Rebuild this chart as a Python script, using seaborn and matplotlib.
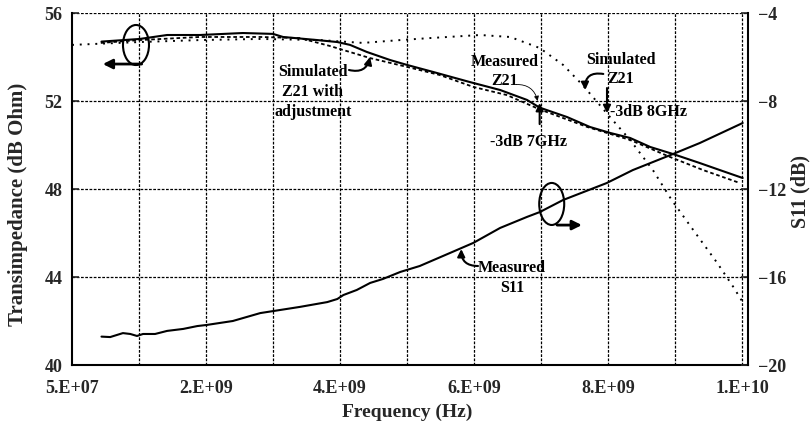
import matplotlib
matplotlib.use("Agg")
import matplotlib.pyplot as plt
import seaborn as sns
import pandas as pd
from matplotlib.patches import Ellipse

# ---------------- data ----------------
freq_meas_z21 = [0.49e9, 1.06e9, 1.47e9, 1.96e9, 2.60e9, 3.05e9, 3.20e9, 3.71e9, 4.01e9,
                 4.20e9, 4.45e9, 4.80e9, 5.05e9, 5.44e9, 5.99e9, 6.44e9, 6.84e9, 7.03e9,
                 7.44e9, 7.78e9, 8.08e9, 8.38e9, 8.68e9, 9.02e9, 9.42e9, 9.72e9, 10.06e9]
meas_z21 = [54.70, 54.82, 55.00, 55.00, 55.09, 55.05, 54.91, 54.77, 54.68,
            54.55, 54.23, 53.86, 53.64, 53.32, 52.86, 52.50, 52.05, 51.70,
            51.27, 50.82, 50.55, 50.32, 49.91, 49.59, 49.18, 48.86, 48.50]

freq_adj_z21 = [0.48e9, 1.06e9, 1.96e9, 2.86e9, 3.45e9, 3.90e9, 4.50e9, 5.05e9, 5.54e9,
                6.04e9, 6.54e9, 7.03e9, 7.74e9, 8.38e9, 8.98e9, 9.47e9, 10.02e9]
adj_z21 = [54.64, 54.77, 54.91, 54.91, 54.86, 54.50, 53.95, 53.55, 53.18,
           52.64, 52.27, 51.62, 50.82, 50.23, 49.45, 48.86, 48.27]

freq_sim_z21 = [0.05e9, 1.06e9, 1.96e9, 2.86e9, 3.75e9, 4.39e9, 4.95e9, 5.39e9, 6.14e9,
                6.59e9, 7.03e9, 7.38e9, 7.67e9, 8.08e9, 8.38e9, 8.72e9, 9.00e9, 9.30e9,
                9.68e9, 9.92e9, 10.06e9]
sim_z21 = [54.55, 54.68, 54.77, 54.82, 54.77, 54.64, 54.77, 54.86, 55.00,
           54.91, 54.41, 53.64, 52.73, 51.27, 50.23, 48.86, 47.50, 46.23,
           44.64, 43.55, 42.86]

freq_meas_s11 = [0.49e9, 0.62e9, 0.81e9, 0.92e9, 1.02e9, 1.11e9, 1.29e9, 1.47e9, 1.71e9,
                 1.92e9, 2.06e9, 2.45e9, 2.86e9, 3.05e9, 3.45e9, 3.86e9, 4.01e9, 4.10e9,
                 4.30e9, 4.50e9, 4.69e9, 4.95e9, 5.24e9, 5.69e9, 6.04e9, 6.44e9, 6.84e9,
                 7.03e9, 7.38e9, 8.03e9, 8.42e9, 9.02e9, 9.42e9, 10.06e9]
meas_s11 = [-18.71, -18.73, -18.55, -18.59, -18.68, -18.59, -18.59, -18.45, -18.36,
            -18.23, -18.18, -18.00, -17.64, -17.55, -17.36, -17.14, -17.00, -16.82,
            -16.59, -16.27, -16.09, -15.77, -15.50, -14.91, -14.45, -13.77, -13.27,
            -13.05, -12.50, -11.73, -11.14, -10.41, -9.91, -9.00]

x_tick_values = [0.05e9, 2.05e9, 4.05e9, 6.05e9, 8.05e9, 10.05e9]
x_tick_labels = ["5.E+07", "2.E+09", "4.E+09", "6.E+09", "8.E+09", "1.E+10"]
x_minor_values = [1.05e9, 3.05e9, 5.05e9, 7.05e9, 9.05e9]
y_left_ticks = [40, 44, 48, 52, 56]
y_right_ticks = [-20, -16, -12, -8, -4]

# ---------------- style ----------------
sns.set_style("white")
plt.rcParams['font.family'] = ['Liberation Serif', 'DejaVu Serif']
plt.rcParams['font.weight'] = 'bold'
plt.rcParams['axes.labelweight'] = 'bold'

fig = plt.figure(figsize=(8.11, 4.28), dpi=100)
ax = fig.add_axes([72 / 811, 1 - 365 / 428, 676 / 811, 352 / 428])
ax2 = ax.twinx()

grid_ls = (0, (2.2, 1.2))
LW = 1.5

df_meas = pd.DataFrame({"f": freq_meas_z21, "z": meas_z21})
df_adj = pd.DataFrame({"f": freq_adj_z21, "z": adj_z21})
df_sim = pd.DataFrame({"f": freq_sim_z21, "z": sim_z21})
df_s11 = pd.DataFrame({"f": freq_meas_s11, "s": meas_s11})

sns.lineplot(data=df_sim, x="f", y="z", ax=ax, color="black", lw=1.4,
             linestyle=(0, (1, 3)), estimator=None, sort=False)
sns.lineplot(data=df_adj, x="f", y="z", ax=ax, color="black", lw=1.3,
             linestyle=(0, (2, 1.5)), estimator=None, sort=False)
sns.lineplot(data=df_meas, x="f", y="z", ax=ax, color="black", lw=LW,
             estimator=None, sort=False)
sns.lineplot(data=df_s11, x="f", y="s", ax=ax2, color="black", lw=LW,
             estimator=None, sort=False)

xmax = 0.05e9 + (748 - 72) / 67 * 1e9
ax.set_xlim(0.05e9, xmax)
ax.set_ylim(40, 56)
ax2.set_ylim(-20, -4)

ax.set_xticks(x_tick_values)
ax.set_xticklabels(x_tick_labels)
ax.set_xticks(x_minor_values, minor=True)
ax.set_yticks(y_left_ticks)
ax2.set_yticks(y_right_ticks)

ax.grid(True, which="both", axis="x", color="black", linestyle=grid_ls, lw=0.9)
ax.grid(True, which="major", axis="y", color="black", linestyle=grid_ls, lw=0.9)
for gl in ax.yaxis.get_gridlines():
    y = gl.get_ydata()[0]
    if y in (40, 56):
        gl.set_visible(False)
for gl in ax.xaxis.get_gridlines():
    if gl.get_xdata()[0] < 0.1e9:
        gl.set_visible(False)
ax.set_axisbelow(True)

for a in (ax, ax2):
    for s in a.spines.values():
        s.set_color("black")
        s.set_linewidth(1.5)
    a.spines["top"].set_visible(False)
ax.spines["right"].set_visible(False)
ax2.spines["left"].set_visible(False)
ax2.spines["bottom"].set_visible(False)

ax.tick_params(axis="x", which="both", length=0, pad=10.5, labelsize=13)
ax.tick_params(axis="y", direction="in", length=5, width=1.2, pad=7, labelsize=13)
ax2.tick_params(axis="y", direction="in", length=5, width=1.2, pad=7, labelsize=13)
for lab in ax.get_xticklabels() + ax.get_yticklabels() + ax2.get_yticklabels():
    lab.set_fontweight("bold")

ax.set_xlabel("Frequency (Hz)", fontsize=14, fontweight="bold")
ax.set_ylabel("Transimpedance (dB Ohm)", fontsize=15, fontweight="bold")
ax2.set_ylabel("S11 (dB)", fontsize=14.5, fontweight="bold")
ax.xaxis.set_label_coords(0.4956, -0.111)
ax.yaxis.set_label_coords(-0.065, 0.457)
ax2.yaxis.set_label_coords(1.0635, 0.494)

# ---------------- annotations ----------------
TXT = dict(fontsize=11.5, fontweight="bold", ha="center", va="center",
           linespacing=1.3, color="black")
head = dict(arrowstyle="-|>", color="black", lw=1.5, mutation_scale=11,
            shrinkA=0, shrinkB=0)

# left group marker (ellipse + arrow to left axis)
ax.add_patch(Ellipse((1.005e9, 54.545), 0.388e9, 1.82, fill=False, lw=1.5, ec="black", zorder=5))
ax.annotate("", xy=(0.51e9, 53.68), xytext=(1.09e9, 53.68),
            arrowprops=dict(head, lw=2.0, mutation_scale=14))

# right group marker (ellipse + arrow to right axis)
ax.add_patch(Ellipse((7.21e9, 47.32), 0.373e9, 1.91, fill=False, lw=1.5, ec="black", zorder=5))
ax.annotate("", xy=(7.66e9, 46.36), xytext=(7.29e9, 46.36),
            arrowprops=dict(head, lw=2.0, mutation_scale=14))

# Simulated Z21 with adjustment
ax.text(3.647e9, 52.41, "Simulated\nZ21 with\nadjustment", **TXT)
ax.annotate("", xy=(4.498e9, 54.0), xytext=(4.184e9, 53.41),
            arrowprops=dict(head, connectionstyle="arc3,rad=0.5"))

# Measured Z21
ax.text(6.51e9, 53.34, "Measured\nZ21", **TXT)
ax.annotate("", xy=(7.0e9, 52.0), xytext=(6.68e9, 52.75),
            arrowprops=dict(arrowstyle="-|>", color="black", lw=0.6, mutation_scale=7,
                            shrinkA=0, shrinkB=0, connectionstyle="arc3,rad=-0.4"))
ax.annotate("", xy=(7.03e9, 51.91), xytext=(7.03e9, 50.95), arrowprops=head)
ax.text(6.87e9, 50.14, "-3dB 7GHz", **TXT)

# Simulated Z21
ax.text(8.24e9, 53.43, "Simulated\nZ21", **TXT)
ax.annotate("", xy=(7.71e9, 52.5), xytext=(7.98e9, 53.23),
            arrowprops=dict(head, connectionstyle="arc3,rad=0.6"))
ax.annotate("", xy=(8.035e9, 51.45), xytext=(8.035e9, 52.59), arrowprops=head)
ax.text(8.66e9, 51.5, "-3dB 8GHz", **TXT)

# Measured S11
ax.text(6.62e9, 43.95, "Measured\nS11", **TXT)
ax.annotate("", xy=(5.86e9, 45.27), xytext=(6.11e9, 44.5),
            arrowprops=dict(head, connectionstyle="arc3,rad=-0.5"))

fig.savefig("out.png", dpi=100)
